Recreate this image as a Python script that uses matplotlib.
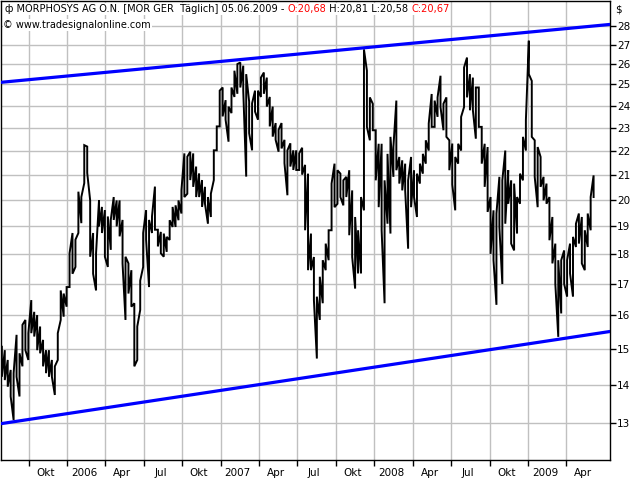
import matplotlib
matplotlib.use("Agg")
import matplotlib.pyplot as plt
import matplotlib.dates as mdates
from matplotlib.ticker import FixedLocator, FixedFormatter, NullLocator, NullFormatter
import pandas as pd

# weekly high / low (MorphoSys, Xetra, EUR)
weekly_high = [
    15.06, 14.96, 14.68, 14.40, 14.31, 15.41, 14.87, 15.71, 15.86, 15.46,
    16.48, 16.11, 16.01, 15.66, 15.26, 14.96, 14.96, 14.68, 14.50, 15.46,
    16.79, 16.69, 16.90, 18.04, 18.76, 18.52, 20.32, 20.11, 22.23, 22.17,
    19.98, 18.76, 18.04, 19.98, 19.73, 19.61, 19.37, 19.24, 20.11, 19.98,
    19.98, 19.24, 17.92, 17.69, 17.46, 16.38, 15.66, 17.11, 18.76, 19.61,
    19.24, 19.37, 20.52, 18.88, 18.80, 18.74, 18.62, 19.23, 19.73, 19.79,
    19.98, 20.38, 21.88, 21.74, 21.95, 21.88, 21.33, 21.05, 20.78, 20.51,
    20.11, 20.24, 22.01, 23.05, 24.70, 24.85, 24.25, 23.95, 24.85, 25.67,
    26.00, 26.08, 25.92, 25.50, 24.18, 24.10, 24.70, 24.70, 25.33, 25.58,
    25.33, 24.40, 23.95, 23.20, 22.90, 23.20, 22.46, 22.01, 22.31, 22.01,
    22.01, 21.88, 22.12, 21.40, 21.04, 18.74, 17.91, 16.59, 17.24, 17.80,
    18.38, 18.86, 20.64, 21.45, 21.18, 21.04, 20.77, 20.91, 21.18, 20.37,
    19.35, 18.86, 20.11, 26.75, 25.67, 24.38, 24.08, 22.88, 22.29, 22.29,
    20.77, 21.86, 22.59, 22.15, 24.23, 21.73, 21.59, 21.45, 20.77, 21.73,
    21.18, 21.04, 21.45, 21.86, 22.44, 23.18, 24.54, 24.23, 24.38, 25.42,
    24.08, 24.38, 22.44, 22.30, 21.73, 22.29, 23.48, 25.83, 26.33, 25.50,
    25.33, 24.85, 24.85, 23.03, 22.29, 22.15, 20.11, 19.60, 19.48, 20.91,
    20.77, 22.00, 21.18, 20.77, 20.64, 20.11, 21.04, 22.59, 23.33, 27.20,
    25.17, 22.44, 22.15, 21.73, 20.91, 20.64, 20.11, 19.35, 18.38, 17.80,
    17.80, 18.14, 17.80, 18.38, 18.62, 19.10, 19.48, 19.35, 18.86, 19.48,
    20.11, 20.97,
]
weekly_low = [
    14.21, 14.12, 13.94, 13.68, 13.07, 14.21, 13.68, 14.50, 14.96, 14.68,
    15.46, 15.36, 14.96, 14.87, 14.50, 14.31, 14.21, 14.21, 13.72, 14.68,
    15.86, 15.96, 16.27, 16.90, 17.34, 17.57, 18.76, 19.12, 20.66, 21.07,
    17.92, 17.34, 16.79, 19.00, 18.76, 17.92, 17.57, 18.16, 19.24, 19.00,
    18.64, 17.69, 15.86, 16.69, 16.27, 14.50, 14.68, 16.17, 17.57, 18.52,
    16.90, 18.76, 18.88, 18.28, 18.04, 17.92, 18.09, 18.51, 18.98, 18.98,
    19.23, 19.48, 20.11, 20.24, 20.78, 20.51, 20.11, 20.11, 19.73, 19.85,
    19.10, 19.35, 20.78, 22.01, 23.05, 23.50, 23.35, 22.38, 23.65, 24.40,
    24.55, 24.85, 24.70, 20.92, 22.75, 22.01, 23.72, 23.35, 24.40, 24.55,
    23.95, 23.05, 22.60, 22.46, 21.95, 22.09, 21.47, 20.18, 21.33, 21.19,
    21.19, 21.19, 21.00, 18.86, 17.46, 17.46, 16.48, 14.72, 15.86, 16.38,
    17.46, 17.80, 18.86, 19.72, 19.85, 20.11, 19.79, 20.11, 18.68, 17.91,
    16.85, 17.35, 17.35, 19.60, 23.03, 22.44, 22.88, 20.77, 19.72, 18.86,
    16.38, 19.10, 18.74, 20.91, 21.18, 20.64, 20.37, 20.37, 18.20, 19.72,
    20.11, 19.35, 20.64, 21.04, 21.45, 22.00, 23.03, 23.03, 23.48, 23.93,
    22.88, 22.59, 21.18, 20.60, 19.60, 21.45, 22.00, 23.93, 24.38, 23.78,
    23.78, 22.51, 23.03, 21.45, 20.51, 19.54, 18.02, 17.80, 16.33, 18.98,
    17.00, 19.10, 19.85, 18.38, 18.14, 18.74, 19.85, 20.77, 22.00, 25.50,
    22.59, 20.91, 19.72, 20.51, 19.98, 19.85, 18.50, 17.69, 17.00, 15.35,
    16.06, 17.00, 16.59, 17.35, 16.59, 18.26, 18.38, 17.69, 17.46, 18.26,
    18.86, 20.11,
]
weeks = pd.date_range("2005-07-29", periods=len(weekly_high), freq="W-FRI")

price_ticks = list(range(13, 29))
quarter_starts = pd.to_datetime([
    "2005-10-01", "2006-01-01", "2006-04-01", "2006-07-01", "2006-10-01",
    "2007-01-01", "2007-04-01", "2007-07-01", "2007-10-01", "2008-01-01",
    "2008-04-01", "2008-07-01", "2008-10-01", "2009-01-01", "2009-04-01",
])
quarter_labels = ["Okt", "2006", "Apr", "Jul", "Okt", "2007", "Apr", "Jul",
                  "Okt", "2008", "Apr", "Jul", "Okt", "2009", "Apr"]

# trend channel end points
channel_dates = pd.to_datetime(["2005-07-27", "2009-07-14"])
channel_upper = [25.10, 28.07]
channel_lower = [12.98, 15.51]

title_parts = [
    ("\u0444 MORPHOSYS AG O.N. [MOR GER  T\u00e4glich] 05.06.2009 - ", "black"),
    ("O:20,68", "red"),
    (" H:20,81 L:20,58 ", "black"),
    ("C:20,67", "red"),
]

plt.rcParams["font.family"] = ["DejaVu Sans"]

fig = plt.figure(figsize=(6.4, 4.8), dpi=100)
ax = fig.add_axes([1 / 640, 20 / 480, 609 / 640, 459 / 480])

# price path: one vertical stroke per week, joined to the next week
xs, ys = [], []
mids = [(h + l) / 2 for h, l in zip(weekly_high, weekly_low)]
n = len(weeks)
for k in range(n):
    up = k + 1 < n and mids[k + 1] > mids[k]
    xs += [weeks[k], weeks[k]]
    ys += [weekly_low[k], weekly_high[k]] if up else [weekly_high[k], weekly_low[k]]
ax.plot(xs, ys, color="black", lw=1.4, solid_joinstyle="miter", zorder=3)

ax.plot(channel_dates, channel_upper, color="#0000ff", lw=2.3, zorder=4)
ax.plot(channel_dates, channel_lower, color="#0000ff", lw=2.3, zorder=4)

ax.set_yscale("log")
ax.set_ylim(12.10, 29.37)
ax.set_xlim(channel_dates[0], channel_dates[1])

ax.yaxis.tick_right()
ax.yaxis.set_major_locator(FixedLocator(price_ticks))
ax.yaxis.set_major_formatter(FixedFormatter([str(p) for p in price_ticks]))
ax.yaxis.set_minor_locator(NullLocator())
ax.yaxis.set_minor_formatter(NullFormatter())
ax.tick_params(axis="y", which="major", length=4, width=1, pad=1, labelsize=7.5)

qx = mdates.date2num(quarter_starts)
ax.xaxis.set_major_locator(FixedLocator(qx))
ax.xaxis.set_major_formatter(NullFormatter())
ax.xaxis.set_minor_locator(FixedLocator(qx + 40))
ax.xaxis.set_minor_formatter(FixedFormatter(quarter_labels))
ax.tick_params(axis="x", which="major", length=4, width=1)
ax.tick_params(axis="x", which="minor", length=0, pad=6, labelsize=7.5)

ax.grid(True, which="major", color="#c0c0c0", lw=1.0, zorder=0)
ax.set_axisbelow(True)
for sp in ax.spines.values():
    sp.set_color("black")
    sp.set_linewidth(1.0)

# header texts
t = ax.text(0.006, 0.9826, title_parts[0][0], transform=ax.transAxes, va="center",
            fontsize=7.1, color=title_parts[0][1], zorder=6,
            bbox=dict(fc="white", ec="none", pad=0.5))
for s, c in title_parts[1:]:
    t = ax.annotate(s, xycoords=t, xy=(1, 0), va="bottom", fontsize=7.1, color=c,
                    zorder=6, bbox=dict(fc="white", ec="none", pad=0.5))
ax.text(0.004, 0.9477, "\u00a9 www.tradesignalonline.com", transform=ax.transAxes,
        va="center", fontsize=7.0, zorder=6, bbox=dict(fc="white", ec="none", pad=0.5))
fig.text(615 / 640, 1 - 10 / 480, "$", fontsize=7.5, va="center")

fig.savefig("out.png", dpi=100, facecolor="white")
